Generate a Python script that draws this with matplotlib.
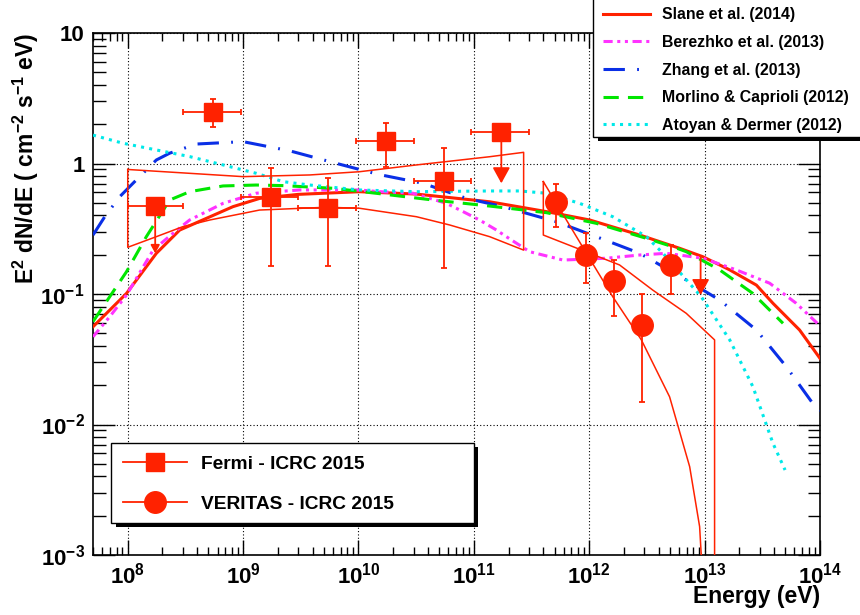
import numpy as np
import matplotlib
matplotlib.use('Agg')
import matplotlib.pyplot as plt
from matplotlib.lines import Line2D
from matplotlib.patches import Rectangle
from matplotlib.ticker import FixedLocator, LogLocator, FuncFormatter, NullFormatter

# ---------------- data ----------------
# Fermi-LAT points (ICRC 2015)
fermi_E = [1.73e8, 5.48e8, 1.73e9, 5.48e9, 1.73e10, 5.48e10, 1.73e11]
fermi_E_lo = [1.0e8, 3.0e8, 9.5e8, 3.0e9, 9.5e9, 3.0e10, 9.5e10]
fermi_E_hi = [3.0e8, 9.5e8, 3.0e9, 9.5e9, 3.0e10, 9.5e10, 3.0e11]
fermi_y = [0.47, 2.49, 0.55, 0.46, 1.49, 0.734, 1.75]
fermi_y_lo = [0.47, 1.90, 0.165, 0.165, 0.946, 0.159, 1.75]
fermi_y_hi = [0.47, 3.12, 0.93, 0.77, 2.06, 1.31, 1.75]
# downward arrows (lower-bound arrow / upper limit)
fermi_arrow_E = [1.73e8, 1.73e11]
fermi_arrow_from = [0.47, 1.75]
fermi_arrow_to = [0.205, 0.705]

# VERITAS points (ICRC 2015)
ver_E = [5.19e11, 9.3e11, 1.64e12, 2.88e12, 5.14e12]
ver_y = [0.509, 0.199, 0.126, 0.0578, 0.167]
ver_y_lo = [0.328, 0.122, 0.0678, 0.015, 0.0996]
ver_y_hi = [0.693, 0.292, 0.182, 0.100, 0.237]
ver_ul_E = [9.23e12]
ver_ul_from = [0.193]
ver_ul_to = [0.098]

# Fermi butterfly
fermi_bt_top_E = [1.0e8, 3.44e8, 1.0e9, 3.78e9, 1.02e10, 3.18e10, 1.37e11, 2.7e11]
fermi_bt_top_y = [0.90, 0.841, 0.793, 0.817, 0.865, 0.975, 1.127, 1.218]
fermi_bt_low_E = [1.0e8, 1.77e8, 3.0e8, 5.14e8, 1.0e9, 1.39e9, 5.27e9, 1.02e10, 3.18e10, 6.17e10, 1.37e11, 2.7e11]
fermi_bt_low_y = [0.228, 0.275, 0.328, 0.369, 0.415, 0.44, 0.462, 0.454, 0.391, 0.338, 0.275, 0.217]

# VERITAS butterfly
ver_bt_a_E = [4.0e11, 1.0e12, 1.6e12, 2.83e12, 4.97e12, 7.42e12, 9.05e12, 9.36e12, 9.5e12]
ver_bt_a_y = [0.726, 0.189, 0.0952, 0.0445, 0.0163, 0.00475, 0.00165, 0.00098, 1e-4]
ver_bt_b_E = [4.0e11, 1.83e12, 3.56e12, 6.93e12, 1.22e13, 1.22e13]
ver_bt_b_y = [0.283, 0.167, 0.107, 0.0711, 0.0445, 1e-4]

# Models
slane_E = [5.0e7, 9.75e7, 1.77e8, 2.82e8, 4.81e8, 8.17e8, 1.39e9, 3.0e9, 1.02e10, 3.18e10, 1.37e11,
           4.25e11, 1.01e12, 2.74e12, 6.07e12, 9.66e12, 1.65e13, 2.81e13, 3.91e13, 6.65e13, 1.0e14]
slane_y = [0.0561, 0.101, 0.205, 0.309, 0.38, 0.467, 0.54, 0.58, 0.608, 0.583, 0.509,
           0.428, 0.369, 0.283, 0.224, 0.193, 0.153, 0.117, 0.0849, 0.053, 0.0321]

berezhko_E = [5.0e7, 6.98e7, 9.75e7, 1.66e8, 2.47e8, 3.44e8, 6.7e8, 1.30e9, 3.09e9, 1.02e10, 1.53e10,
              2.96e10, 5.78e10, 8.05e10, 1.12e11, 1.57e11, 1.91e11, 3.04e11, 5.92e11, 1.41e12, 2.74e12,
              4.66e12, 9.66e12, 1.88e13, 3.66e13, 6.22e13, 1.0e14]
berezhko_y = [0.047, 0.067, 0.098, 0.217, 0.292, 0.369, 0.495, 0.592, 0.627, 0.627, 0.608,
              0.592, 0.495, 0.428, 0.369, 0.309, 0.275, 0.211, 0.182, 0.188, 0.199,
              0.205, 0.188, 0.153, 0.121, 0.0849, 0.057]

zhang_E = [5.0e7, 6.32e7, 8.53e7, 1.11e8, 1.77e8, 2.31e8, 3.94e8, 1.0e9, 2.54e9, 6.22e9, 1.48e10,
           3.62e10, 8.61e10, 1.79e11, 5.19e11, 1.15e12, 2.74e12, 6.93e12, 1.35e13, 2.81e13, 5.11e13,
           9.29e13, 1.0e14]
zhang_y = [0.283, 0.391, 0.557, 0.705, 1.064, 1.2, 1.41, 1.47, 1.25, 1.01, 0.826,
           0.705, 0.541, 0.467, 0.358, 0.275, 0.205, 0.128, 0.0899, 0.053, 0.0277,
           0.0133, 0.0128]

morlino_E = [5.0e7, 6.98e7, 9.75e7, 1.45e8, 2.31e8, 3.44e8, 6.7e8, 1.30e9, 2.22e9, 6.01e9, 1.63e10,
             4.43e10, 1.37e11, 4.25e11, 1.15e12, 3.13e12, 5.31e12, 6.93e12, 1.35e13, 2.62e13, 4.78e13]
morlino_y = [0.0614, 0.0953, 0.148, 0.275, 0.525, 0.608, 0.673, 0.684, 0.677, 0.646, 0.583,
             0.525, 0.472, 0.42, 0.348, 0.267, 0.23, 0.211, 0.153, 0.101, 0.0596]

atoyan_E = [5.0e7, 9.1e7, 1.77e8, 3.44e8, 6.7e8, 1.30e9, 2.22e9, 3.78e9, 1.02e10, 3.18e10, 1.37e11,
            2.49e11, 4.25e11, 8.26e11, 1.60e12, 3.13e12, 4.36e12, 9.35e12, 1.65e13, 2.62e13, 3.91e13,
            4.98e13]
atoyan_y = [1.65, 1.43, 1.27, 1.13, 0.975, 0.841, 0.726, 0.684, 0.627, 0.608, 0.616,
            0.616, 0.592, 0.495, 0.391, 0.275, 0.205, 0.0953, 0.0445, 0.0195, 0.00718,
            0.00448]

model_labels = ['Slane et al. (2014)', 'Berezhko et al. (2013)', 'Zhang et al. (2013)',
                'Morlino & Caprioli (2012)', 'Atoyan & Dermer (2012)']
data_labels = ['Fermi - ICRC 2015', 'VERITAS - ICRC 2015']

x_major_ticks = [1e8, 1e9, 1e10, 1e11, 1e12, 1e13, 1e14]
y_major_ticks = [1e-3, 1e-2, 1e-1, 1, 10]

# ---------------- style ----------------
plt.rcParams['font.family'] = ['Liberation Sans', 'DejaVu Sans']
plt.rcParams['font.weight'] = 'bold'
plt.rcParams['mathtext.fontset'] = 'custom'
plt.rcParams['mathtext.rm'] = 'Liberation Sans:bold'
plt.rcParams['mathtext.bf'] = 'Liberation Sans:bold'
plt.rcParams['mathtext.it'] = 'Liberation Sans:bold'
plt.rcParams['mathtext.sf'] = 'Liberation Sans:bold'
plt.rcParams['mathtext.default'] = 'rm'

RED = '#ff2200'
MAG = '#ff33ff'
BLUE = '#0a2fe6'
GREEN = '#00e600'
CYAN = '#00e8e8'

W, H = 860, 615
def fx(px):
    return px / W
def fy(py):
    return 1 - py / H

fig = plt.figure(figsize=(8.6, 6.15), dpi=100)
ax = fig.add_axes([fx(93), fy(555), fx(820) - fx(93), fy(33) - fy(555)])
ax.set_xscale('log')
ax.set_yscale('log')
ax.set_xlim(5e7, 1e14)
ax.set_ylim(1e-3, 10)

ax.xaxis.set_major_locator(FixedLocator(x_major_ticks))
ax.xaxis.set_minor_locator(LogLocator(base=10, subs=np.arange(2, 10), numticks=200))
ax.yaxis.set_major_locator(FixedLocator(y_major_ticks))
ax.yaxis.set_minor_locator(LogLocator(base=10, subs=np.arange(2, 10), numticks=200))

def xfmt(v, pos):
    n = int(round(np.log10(v)))
    return r'$10^{%d}$' % n

def yfmt(v, pos):
    n = int(round(np.log10(v)))
    if n == 0:
        return '1'
    if n == 1:
        return '10'
    return r'$10^{%d}$' % n

ax.xaxis.set_major_formatter(FuncFormatter(xfmt))
ax.yaxis.set_major_formatter(FuncFormatter(yfmt))
ax.xaxis.set_minor_formatter(NullFormatter())
ax.yaxis.set_minor_formatter(NullFormatter())

ax.tick_params(which='both', direction='in', top=True, right=True, width=1.0, colors='black')
ax.tick_params(axis='x', which='major', length=11, pad=5.5, labelsize=16)
ax.tick_params(axis='x', which='minor', length=6)
ax.tick_params(axis='y', which='major', length=16, pad=6, labelsize=16)
ax.tick_params(axis='y', which='minor', length=9)
for s in ax.spines.values():
    s.set_linewidth(1.2)

ax.set_axisbelow(True)
ax.grid(True, which='major', color='black', linestyle=(0, (1, 2)), linewidth=0.8)

# ---------------- models ----------------
lw_m = 2.2
h_slane, = ax.plot(slane_E, slane_y, color=RED, lw=lw_m, zorder=3)
h_ber, = ax.plot(berezhko_E, berezhko_y, color=MAG, lw=lw_m,
                 linestyle=(0, (3, 1.5, 1, 1.5, 1, 1.5)), zorder=3)
h_zhang, = ax.plot(zhang_E, zhang_y, color=BLUE, lw=lw_m,
                   linestyle=(0, (7, 4, 0.6, 4)), zorder=3)
h_mor, = ax.plot(morlino_E, morlino_y, color=GREEN, lw=lw_m,
                 linestyle=(0, (5, 3)), zorder=3)
h_ato, = ax.plot(atoyan_E, atoyan_y, color=CYAN, lw=lw_m,
                 linestyle=(0, (1, 1.7)), zorder=3)

# ---------------- butterflies ----------------
fb_E = list(fermi_bt_top_E) + list(fermi_bt_low_E[::-1]) + [fermi_bt_top_E[0]]
fb_y = list(fermi_bt_top_y) + list(fermi_bt_low_y[::-1]) + [fermi_bt_top_y[0]]
ax.plot(fb_E, fb_y, color=RED, lw=1.1, zorder=4)

vb_E = list(ver_bt_a_E) + list(ver_bt_b_E[::-1]) + [ver_bt_a_E[0]]
vb_y = list(ver_bt_a_y) + list(ver_bt_b_y[::-1]) + [ver_bt_a_y[0]]
ax.plot(vb_E, vb_y, color=RED, lw=1.1, zorder=4)

# ---------------- data points ----------------
fE = np.array(fermi_E)
fyv = np.array(fermi_y)
xerr = [fE - np.array(fermi_E_lo), np.array(fermi_E_hi) - fE]
yerr = [fyv - np.array(fermi_y_lo), np.array(fermi_y_hi) - fyv]
ax.errorbar(fE, fyv, xerr=xerr, yerr=yerr, fmt='s', ms=13, color=RED, ecolor=RED,
            elinewidth=1.3, capsize=2.5, capthick=1.3, zorder=6)
for E, y0, y1, ms in zip(fermi_arrow_E, fermi_arrow_from, fermi_arrow_to, [12, 24]):
    ax.annotate('', xy=(E, y1), xytext=(E, y0),
                arrowprops=dict(arrowstyle='-|>,head_length=0.4,head_width=0.22', color=RED,
                                lw=1.3, shrinkA=0, shrinkB=0, mutation_scale=ms), zorder=6)

vE = np.array(ver_E)
vy = np.array(ver_y)
ax.errorbar(vE, vy, yerr=[vy - np.array(ver_y_lo), np.array(ver_y_hi) - vy], fmt='o', ms=15.5,
            color=RED, ecolor=RED, elinewidth=1.3, capsize=2.5, capthick=1.3, zorder=6)
for E, y0, y1 in zip(ver_ul_E, ver_ul_from, ver_ul_to):
    ax.annotate('', xy=(E, y1), xytext=(E, y0),
                arrowprops=dict(arrowstyle='-|>,head_length=0.4,head_width=0.22', color=RED,
                                lw=1.3, shrinkA=0, shrinkB=0, mutation_scale=24), zorder=6)

# ---------------- axis labels ----------------
ax.set_ylabel(r'E$^{2}$ dN/dE ( cm$^{-2}$ s$^{-1}$ eV)', fontsize=16.5, fontweight='bold', loc='top')
ax.yaxis.set_label_coords(-0.072, 1.0)
ax.set_xlabel('Energy (eV)', fontsize=16.5, fontweight='bold', loc='right')
ax.xaxis.set_label_coords(1.0, -0.058)

# ---------------- legends ----------------
# model legend (top right)
fig.patches.append(Rectangle((fx(598.3), fy(140.7)), fx(900) - fx(598.3), fy(-5) - fy(140.7),
                             transform=fig.transFigure, fc='black', ec='none', zorder=1.4))
fig.patches.append(Rectangle((fx(593.3), fy(136.7)), fx(900) - fx(593.3), fy(-5) - fy(136.7),
                             transform=fig.transFigure, fc='white', ec='black', lw=1.0, zorder=1.5))
leg1 = fig.legend([h_slane, h_ber, h_zhang, h_mor, h_ato], model_labels, loc='upper left',
                  bbox_to_anchor=(fx(602.7), fy(7.2)), bbox_transform=fig.transFigure,
                  frameon=False, borderpad=0, borderaxespad=0, fontsize=11.4,
                  handlelength=3.0, handletextpad=0.75, labelspacing=0.8)

# data legend (bottom left)
fig.patches.append(Rectangle((fx(116.3), fy(527.3)), fx(478) - fx(116.3), fy(447.3) - fy(527.3),
                             transform=fig.transFigure, fc='black', ec='none', zorder=1.4))
fig.patches.append(Rectangle((fx(111), fy(523.3)), fx(474) - fx(111), fy(443.3) - fy(523.3),
                             transform=fig.transFigure, fc='white', ec='black', lw=1.0, zorder=1.5))
hf = Line2D([], [], color=RED, marker='s', ms=13, lw=1.3)
hv = Line2D([], [], color=RED, marker='o', ms=15.5, lw=1.3)
leg2 = fig.legend([hf, hv], data_labels, loc='upper left',
                  bbox_to_anchor=(fx(123.3), fy(455.6)), bbox_transform=fig.transFigure,
                  frameon=False, borderpad=0, borderaxespad=0, fontsize=13.8,
                  handlelength=3.3, handletextpad=0.745, labelspacing=1.16, numpoints=1)

fig.savefig('out.png', dpi=100)
